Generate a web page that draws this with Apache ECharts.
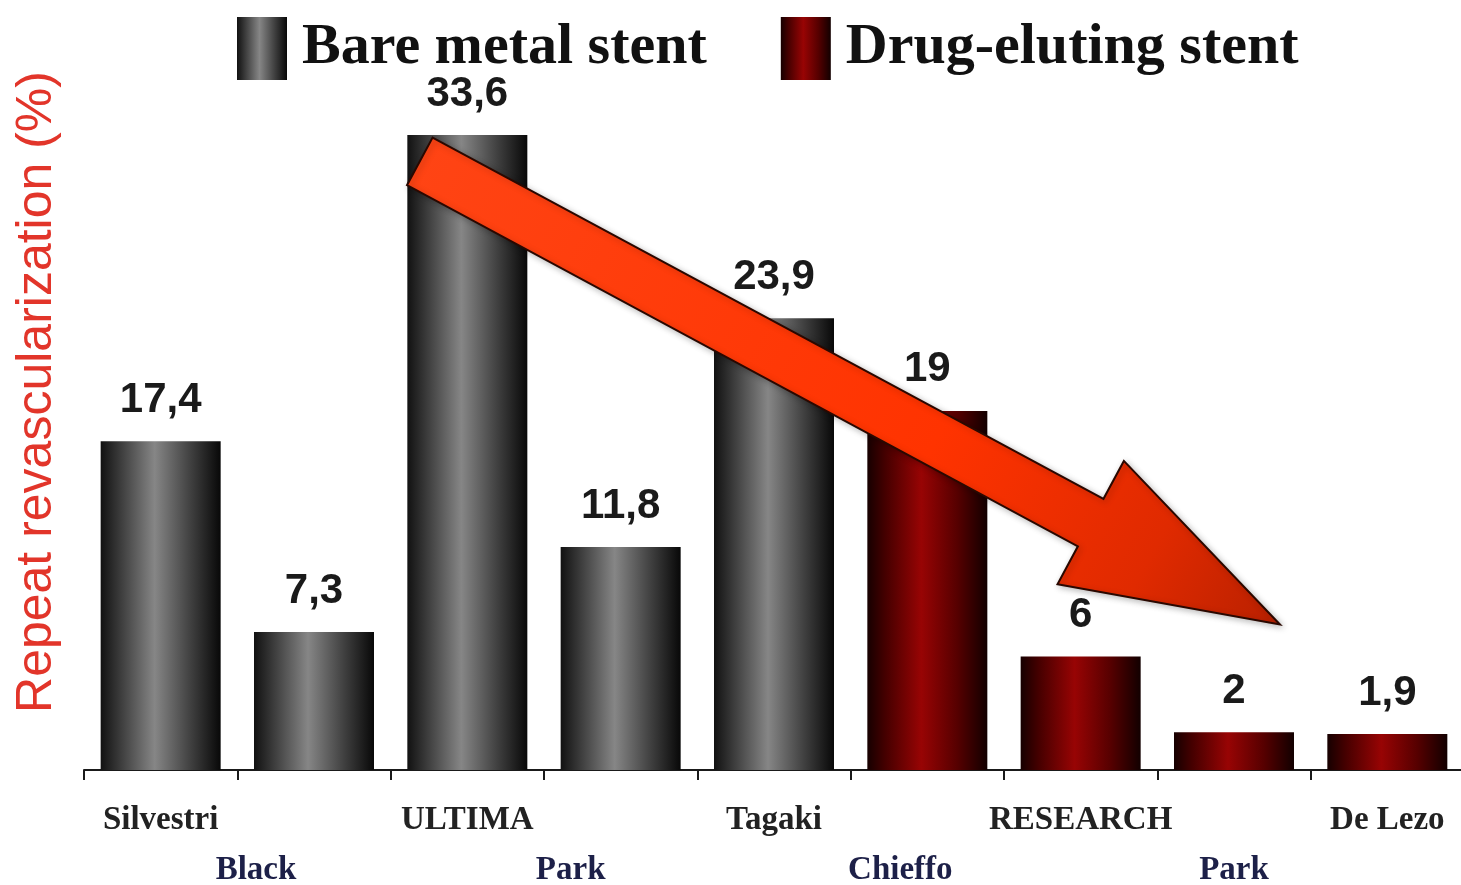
<!DOCTYPE html>
<html>
<head>
<meta charset="utf-8">
<script src="https://cdn.jsdelivr.net/npm/echarts@6/dist/echarts.min.js"></script>
<style>
html,body{margin:0;padding:0;background:#fff;}
#chart{width:1461px;height:885px;}
</style>
</head>
<body>
<div id="chart"></div>
<script>
// ---- data ----
const categories = ['Silvestri', 'Black', 'ULTIMA', 'Park', 'Tagaki', 'Chieffo', 'RESEARCH', 'Park', 'De Lezo'];
const bareMetal = [17.4, 7.3, 33.6, 11.8, 23.9, null, null, null, null];
const drugEluting = [null, null, null, null, null, 19, 6, 2, 1.9];
const seriesNames = ['Bare metal stent', 'Drug-eluting stent'];
const yAxisTitle = 'Repeat revascularization (%)';
// trend arrow annotation: [fromX, fromY, toX, toY] in (bar-slot units, %)
const trendArrow = [2.19, 32.2, 7.8, 7.7];

const allValues = categories.map((c, i) => bareMetal[i] != null ? bareMetal[i] : drugEluting[i]);

const chart = echarts.init(document.getElementById('chart'));

const greyGrad = new echarts.graphic.LinearGradient(0, 0, 1, 0, [
  {offset: 0, color: '#111111'},
  {offset: 0.15, color: '#383838'},
  {offset: 0.45, color: '#868686'},
  {offset: 0.75, color: '#404040'},
  {offset: 1, color: '#080808'}
]);
const redGrad = new echarts.graphic.LinearGradient(0, 0, 1, 0, [
  {offset: 0, color: '#160000'},
  {offset: 0.15, color: '#450000'},
  {offset: 0.45, color: '#980404'},
  {offset: 0.75, color: '#560000'},
  {offset: 1, color: '#120000'}
]);

function arrowItem(params, api) {
  const p0 = api.coord([api.value(0), api.value(1)]);
  const p1 = api.coord([api.value(2), api.value(3)]);
  const dx = p1[0] - p0[0], dy = p1[1] - p0[1];
  const L = Math.sqrt(dx * dx + dy * dy);
  const u = [dx / L, dy / L];
  const n = [-u[1], u[0]];
  const w = 27, h = 70, H = 215;
  const neck = [p1[0] - u[0] * H, p1[1] - u[1] * H];
  const pt = (b, s) => [b[0] + n[0] * s, b[1] + n[1] * s];
  const points = [
    pt(p0, -w), pt(neck, -w), pt(neck, -h), p1, pt(neck, h), pt(neck, w), pt(p0, w)
  ];
  return {
    type: 'polygon',
    shape: {points: points},
    style: {
      fill: new echarts.graphic.LinearGradient(p0[0], p0[1], p1[0], p1[1], [
        {offset: 0, color: '#ff4414'},
        {offset: 0.6, color: '#ff3300'},
        {offset: 0.85, color: '#e02a00'},
        {offset: 1, color: '#b82000'}
      ], true),
      stroke: '#2a0800',
      lineWidth: 2,
      shadowBlur: 6,
      shadowColor: 'rgba(0,0,0,0.25)',
      shadowOffsetX: 2,
      shadowOffsetY: 2
    }
  };
}

const serifFont = 'Liberation Serif, Times New Roman, serif';
const bottomLabelStyle = (shift) => ({
  fontFamily: serifFont, fontWeight: 'bold', fontSize: 33, color: '#1d2048', lineHeight: 50,
  padding: [0, shift, 0, 0]
});

const option = {
  backgroundColor: '#ffffff',
  animation: false,
  legend: {
    data: seriesNames,
    left: 232,
    top: 12,
    itemWidth: 50,
    itemHeight: 63,
    itemGap: 74,
    icon: 'rect',
    textStyle: {
      fontFamily: serifFont,
      fontWeight: 'bold',
      fontSize: 58,
      color: '#111',
      padding: [0, 0, 0, 10]
    }
  },
  grid: {left: 84, top: 14, width: 1380, height: 756, containLabel: false, outerBoundsMode: 'none'},
  xAxis: [{
    type: 'category',
    data: categories,
    axisLine: {lineStyle: {color: '#1a1a1a', width: 2}},
    axisTick: {show: true, length: 10, lineStyle: {color: '#1a1a1a', width: 2}},
    axisLabel: {
      interval: 0,
      margin: 25,
      lineHeight: 50,
      formatter: (v, i) => i % 2 === 0 ? '{t|' + v + '}' : '\n{b' + i + '|' + v + '}',
      rich: {
        t: {fontFamily: serifFont, fontWeight: 'bold', fontSize: 33, color: '#222222', lineHeight: 50},
        b1: bottomLabelStyle(116),
        b3: bottomLabelStyle(100),
        b5: bottomLabelStyle(54),
        b7: bottomLabelStyle(0)
      }
    }
  }, {
    type: 'value', min: 0, max: 9, show: false
  }],
  yAxis: {
    type: 'value',
    min: 0,
    max: 40,
    name: yAxisTitle,
    nameLocation: 'middle',
    nameGap: 22,
    nameTextStyle: {fontFamily: 'Liberation Sans, Arial, sans-serif', fontSize: 50, color: '#e2352a'},
    axisLine: {show: false},
    axisTick: {show: false},
    axisLabel: {show: false},
    splitLine: {show: false}
  },
  series: [{
    name: seriesNames[0],
    type: 'bar',
    data: bareMetal,
    barWidth: 120,
    barGap: '-100%',
    itemStyle: {color: greyGrad},
    z: 2
  }, {
    name: seriesNames[1],
    type: 'bar',
    data: drugEluting,
    barWidth: 120,
    barGap: '-100%',
    itemStyle: {color: redGrad},
    z: 2
  }, {
    name: 'trend',
    type: 'custom',
    xAxisIndex: 1,
    yAxisIndex: 0,
    renderItem: arrowItem,
    data: [trendArrow],
    silent: true,
    z: 3
  }, {
    name: 'values',
    type: 'bar',
    data: allValues,
    barWidth: 120,
    barGap: '-100%',
    silent: true,
    itemStyle: {color: 'rgba(0,0,0,0)'},
    label: {
      show: true,
      position: 'top',
      distance: 20,
      formatter: p => String(p.value).replace('.', ','),
      fontFamily: 'Liberation Sans, Arial, sans-serif',
      fontWeight: 'bold',
      fontSize: 42,
      color: '#1a1a1a'
    },
    z: 5
  }]
};
chart.setOption(option);
</script>
</body>
</html>
